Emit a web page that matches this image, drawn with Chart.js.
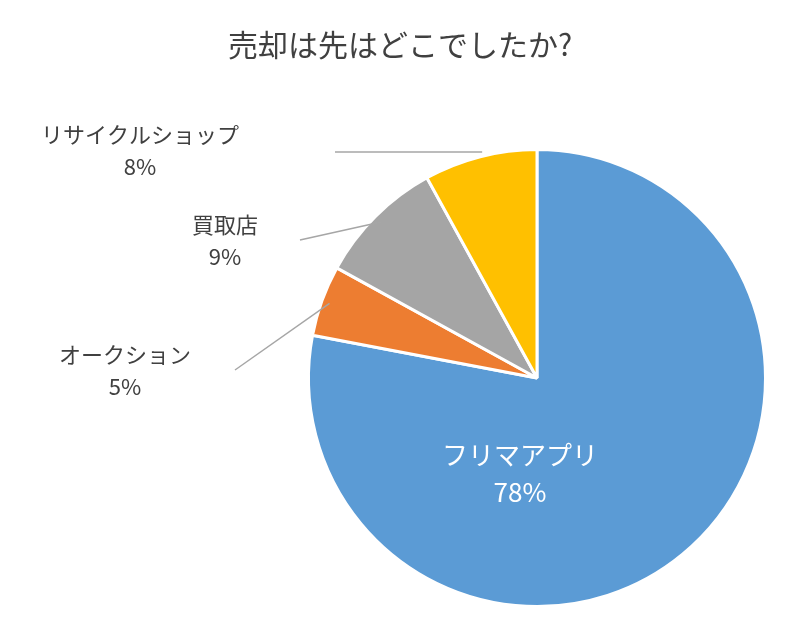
<!DOCTYPE html><html><head><meta charset="utf-8">
<script src="https://cdn.jsdelivr.net/npm/chart.js@4/dist/chart.umd.min.js"></script>
<style>html,body{margin:0;background:#fff}#w{width:800px;height:624px}</style></head><body>
<div id="w"><canvas id="c"></canvas></div>
<script>
const categories=['フリマアプリ','オークション','買取店','リサイクルショップ'];
const values=[78,5,9,8];
const colors=['#5b9bd5','#ed7d31','#a5a5a5','#ffc000'];
const F='"Noto Sans CJK JP","Noto Sans",sans-serif';
const lbl={
 id:'lbl',
 afterDraw(ch){
  const c=ch.ctx;c.save();
  c.fillStyle='#404040';c.font='30px '+F;c.textAlign='center';c.textBaseline='middle';
  c.fillText('売却は先はどこでしたか?',400,45);
  const meta=ch.getDatasetMeta(0);
  const pos=[null,{x:125,y:355,lx:235,ly:370},{x:225,y:225,lx:300,ly:240},{x:140,y:135,lx:335,ly:152}];
  meta.data.forEach((a,i)=>{
   const txt=categories[i], pct=values[i]+'%';
   if(i===0){c.fillStyle='#fff';c.font='26px '+F;c.fillText(txt,520,455);c.fillText(pct,520,492);return;}
   const p=pos[i];const m=(a.startAngle+a.endAngle)/2;
   const ex=a.x+Math.cos(m)*(a.outerRadius-8), ey=a.y+Math.sin(m)*(a.outerRadius-8);
   c.strokeStyle='#a6a6a6';c.lineWidth=1.5;c.beginPath();c.moveTo(p.lx,p.ly);
   if(i===3){c.lineTo(ex,p.ly);}else{c.lineTo(ex,ey);}c.stroke();
   c.fillStyle='#404040';c.font='22px '+F;c.fillText(txt,p.x,p.y);c.fillText(pct,p.x,p.y+32);
  });
  c.restore();
 }};
new Chart(document.getElementById('c'),{type:'pie',
 data:{labels:categories,datasets:[{data:values,backgroundColor:colors,borderColor:'#fff',borderWidth:3}]},
 options:{responsive:true,maintainAspectRatio:false,animation:false,
  layout:{padding:{top:148,bottom:16,left:307,right:33}},
  plugins:{legend:{display:false},tooltip:{enabled:false}}},
 plugins:[lbl]});
</script></body></html>
